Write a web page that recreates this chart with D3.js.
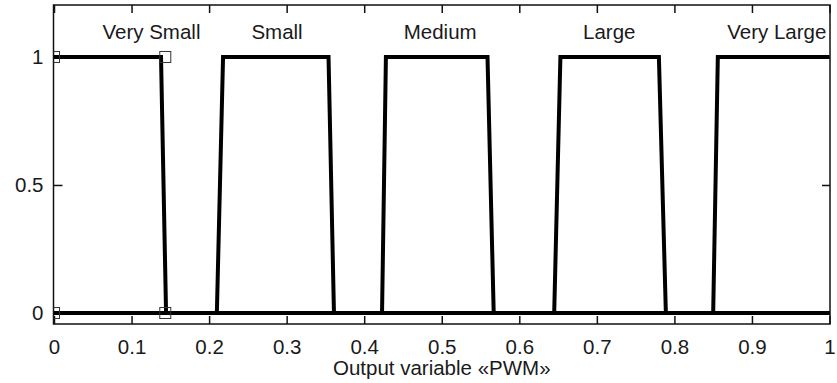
<!DOCTYPE html>
<html>
<head>
<meta charset="utf-8">
<script src="https://cdn.jsdelivr.net/npm/d3@7"></script>
<style>
  body { margin: 0; background: #fff; }
  svg text { font-family: "Liberation Sans", Arial, sans-serif; fill: #1a1a1a; }
</style>
</head>
<body>
<svg id="svg" width="837" height="383"></svg>
<script>
// membership function names
var terms = ["Very Small", "Small", "Medium", "Large", "Very Large"]
// where each name is written (in x units)
var termLabelX = [0.1257, 0.2876, 0.498, 0.716, 0.932]
// breakpoints of each function: x and membership
var termX = [
    [0, 0.138, 0.1445, 1],
    [0, 0.21, 0.218, 0.354, 0.361, 1],
    [0, 0.423, 0.428, 0.559, 0.567, 1],
    [0, 0.645, 0.653, 0.780, 0.789, 1],
    [0, 0.850, 0.856, 1]
]
var termY = [
    [1, 1, 0, 0],
    [0, 0, 1, 1, 0, 0],
    [0, 0, 1, 1, 0, 0],
    [0, 0, 1, 1, 0, 0],
    [0, 0, 1, 1]
]
// square handles of the selected function
var handleX = [0, 0.1435, 0, 0.1435]
var handleY = [1, 1, 0, 0]

var xTicks = [0, 0.1, 0.2, 0.3, 0.4, 0.5, 0.6, 0.7, 0.8, 0.9, 1]
var yTicks = [0, 0.5, 1]
var xTitle = "Output variable «PWM»"

var svg = d3.select("#svg")
var frame = { left: 53.5, right: 830, top: 5, bottom: 324 }
var fontSize = "20.5px"

var x = d3.scaleLinear().domain([0, 1]).range([54, 829.5])
var y = d3.scaleLinear().domain([-0.043, 1.203]).range([frame.bottom, frame.top])

var g = svg.append("g")

svg.append("clipPath").attr("id", "plotclip")
    .append("rect")
    .attr("x", frame.left).attr("y", frame.top)
    .attr("width", frame.right - frame.left).attr("height", frame.bottom - frame.top)

// axes: ticks pointing inward on all four sides
function styleAxis(sel) {
    sel.select(".domain").remove()
    sel.selectAll(".tick line").attr("stroke", "#111").attr("stroke-width", 1.5)
    sel.selectAll("text").style("font-size", fontSize).attr("fill", "#1a1a1a")
}

g.append("g")
    .attr("transform", "translate(0," + frame.bottom + ")")
    .call(d3.axisBottom(x).tickValues(xTicks).tickFormat(d3.format("")).tickSizeInner(-8).tickPadding(15.5))
    .call(styleAxis)

g.append("g")
    .attr("transform", "translate(0," + frame.top + ")")
    .call(d3.axisTop(x).tickValues(xTicks).tickFormat("").tickSizeInner(-8))
    .call(styleAxis)

g.append("g")
    .attr("transform", "translate(" + frame.left + ",0)")
    .call(d3.axisLeft(y).tickValues(yTicks).tickFormat(d3.format("")).tickSizeInner(-9).tickPadding(10))
    .call(styleAxis)

g.append("g")
    .attr("transform", "translate(" + frame.right + ",0)")
    .call(d3.axisRight(y).tickValues(yTicks).tickFormat("").tickSizeInner(-8))
    .call(styleAxis)

g.append("rect")
    .attr("x", frame.left).attr("y", frame.top)
    .attr("width", frame.right - frame.left).attr("height", frame.bottom - frame.top)
    .attr("fill", "none").attr("stroke", "#111").attr("stroke-width", 1.5)

// membership functions
var line = d3.line()
    .x(function (d) { return x(d[0]) })
    .y(function (d) { return y(d[1]) })

g.append("g").selectAll("path")
    .data(termX.map(function (xs, i) { return d3.zip(xs, termY[i]) }))
    .enter().append("path")
    .attr("d", line)
    .attr("fill", "none")
    .attr("stroke", "#000")
    .attr("stroke-width", 4)
    .attr("stroke-linejoin", "miter")

g.append("g").attr("clip-path", "url(#plotclip)")
    .selectAll("rect")
    .data(d3.zip(handleX, handleY))
    .enter().append("rect")
    .attr("x", function (d) { return x(d[0]) - 5.5 })
    .attr("y", function (d) { return y(d[1]) - 5.5 })
    .attr("width", 11).attr("height", 11)
    .attr("fill", "none").attr("stroke", "#333").attr("stroke-width", 1)

// term names
g.selectAll(".termLabel")
    .data(terms)
    .enter().append("text")
    .attr("class", "termLabel")
    .attr("x", function (d, i) { return x(termLabelX[i]) })
    .attr("y", 39)
    .attr("text-anchor", "middle")
    .style("font-size", fontSize)
    .text(function (d) { return d })

g.append("text")
    .attr("x", x(0.5))
    .attr("y", 375)
    .attr("text-anchor", "middle")
    .style("font-size", fontSize)
    .text(xTitle)
</script>
</body>
</html>
